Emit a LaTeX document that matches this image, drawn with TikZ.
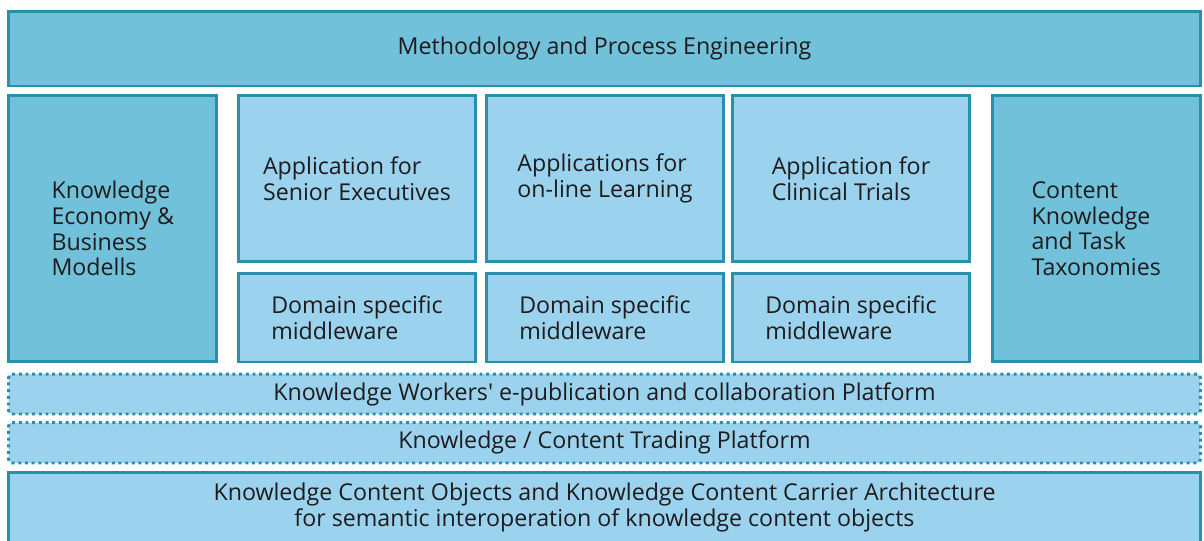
\documentclass[tikz,border=0pt]{standalone}
\usepackage{fontspec}
\setmainfont{Open Sans}
\usetikzlibrary{positioning}
\definecolor{boxline}{HTML}{2A8FAB}
\definecolor{darkfill}{HTML}{72C1DA}
\definecolor{lightfill}{HTML}{9BD3EE}
\definecolor{inktext}{HTML}{1E1B1C}
\tikzset{
    panel/.style={draw=boxline, line width=1.7pt, inner sep=0pt, text=inktext,
        font=\fontsize{13.2}{14.6}\selectfont, align=left},
    darkbox/.style={panel, fill=darkfill},
    lightbox/.style={panel, fill=lightfill},
    dotbox/.style={panel, fill=lightfill, line width=1.7pt, rounded corners=2pt,
        dash pattern=on 1.7pt off 2.1pt},
}
\begin{document}
\begin{tikzpicture}[x=0.02cm, y=-0.02cm]
    \useasboundingbox (0,0) rectangle (1204,541);
    % top layer
    \node [darkbox, minimum width=23.84cm, minimum height=1.49cm] (method) at (604.5,48.75)
        {Methodology and Process Engineering};
    % side columns
    \node [darkbox, minimum width=4.17cm, minimum height=5.33cm] (economy) at (112.75,228.75)
        {Knowledge\\Economy \&\\Business\\Modells};
    \node [darkbox, minimum width=4.17cm, minimum height=5.33cm] (taxonomy) at (1096.25,228.75)
        {Content\\Knowledge\\and Task\\Taxonomies};
    % applications
    \node [lightbox, minimum width=4.76cm, minimum height=3.32cm] (appexec) at (357,178.5)
        {Application for\\Senior Executives};
    \node [lightbox, minimum width=4.76cm, minimum height=3.32cm] (applearn) at (605,178.5)
        {Applications for\\on-line Learning};
    \node [lightbox, minimum width=4.76cm, minimum height=3.32cm] (apptrial) at (851,178.5)
        {Application for\\Clinical Trials};
    % middleware
    \node [lightbox, minimum width=4.76cm, minimum height=1.77cm] (mwexec) at (357,317.75)
        {Domain specific\\middleware};
    \node [lightbox, minimum width=4.76cm, minimum height=1.77cm] (mwlearn) at (605,317.75)
        {Domain specific\\middleware};
    \node [lightbox, minimum width=4.76cm, minimum height=1.77cm] (mwtrial) at (851,317.75)
        {Domain specific\\middleware};
    % platforms
    \node [dotbox, minimum width=23.84cm, minimum height=0.8cm] (publish) at (604.5,394)
        {Knowledge Workers\textquotesingle\ e-publication and collaboration Platform};
    \node [dotbox, minimum width=23.84cm, minimum height=0.81cm] (trading) at (604.5,442.75)
        {Knowledge / Content Trading Platform};
    \node [lightbox, minimum width=23.84cm, minimum height=1.41cm, align=center] (carrier) at (604.5,507.75)
        {Knowledge Content Objects and Knowledge Content Carrier Architecture\\for semantic interoperation of knowledge content objects};
\end{tikzpicture}
\end{document}
